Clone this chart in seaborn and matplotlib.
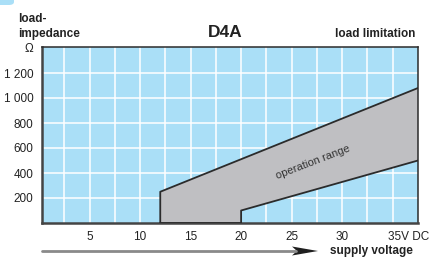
import matplotlib
matplotlib.use("Agg")
import matplotlib.pyplot as plt
import seaborn as sns
from matplotlib.lines import Line2D
from matplotlib.patches import Polygon, FancyBboxPatch
from matplotlib.transforms import ScaledTranslation

# data
volts_upper = [12, 12, 37.5]
ohm_upper = [0, 250, 1080]
volts_lower = [12, 20, 20, 37.5]
ohm_lower = [0, 0, 100, 500]

x_ticks = [5, 10, 15, 20, 25, 30, 35]
x_labels = ["5", "10", "15", "20", "25", "30", "35V DC"]
y_ticks = [200, 400, 600, 800, 1000, 1200, 1400]
y_labels = ["200", "400", "600", "800", "1 000", "1 200", "\u03a9"]

blue = "#aadff7"
grey = "#bfbfc2"
dark = "#2b2b2b"

sns.set_style("white", {"axes.facecolor": blue})
plt.rcParams["font.family"] = ["Liberation Sans", "DejaVu Sans"]

fig = plt.figure(figsize=(4.45, 2.58), dpi=100)
ax = fig.add_axes([42 / 445, 1 - 223 / 258, 376 / 445, 176 / 258])
ax.set_facecolor(blue)

# grid: vertical every 2.5 V, horizontal every 200 ohm
for v in [2.5 * i for i in range(1, 15)]:
    ax.axvline(v, color="white", lw=1.1, zorder=1)
for o in y_ticks[:-1]:
    ax.axhline(o, color="white", lw=1.1, zorder=1)

# operation range
poly_x = volts_upper + volts_lower[::-1]
poly_y = ohm_upper + ohm_lower[::-1]
ax.fill(poly_x, poly_y, color=grey, zorder=2, lw=0)
sns.lineplot(x=volts_upper, y=ohm_upper, ax=ax, color=dark, lw=1.3,
             sort=False, estimator=None, zorder=3)
sns.lineplot(x=volts_lower, y=ohm_lower, ax=ax, color=dark, lw=1.3,
             sort=False, estimator=None, zorder=3)

ax.text(27.1, 490, "operation range", rotation=21, ha="center", va="center",
        fontsize=8, color="#333333", zorder=4)

ax.set_xlim(0.3, 37.5)
ax.set_ylim(0, 1408)
ax.set_xticks(x_ticks)
ax.set_xticklabels(x_labels)
ax.set_yticks(y_ticks)
ax.set_yticklabels(y_labels)
ax.tick_params(length=0, labelsize=8.5, colors="#222222")
ax.tick_params(axis="x", pad=6)
ax.tick_params(axis="y", pad=6)
last = ax.get_xticklabels()[-1]
last.set_horizontalalignment("left")
last.set_transform(last.get_transform() + ScaledTranslation(-0.045, 0, fig.dpi_scale_trans))

for side in ["top", "right"]:
    ax.spines[side].set_color(dark)
    ax.spines[side].set_linewidth(1.1)
for side in ["left", "bottom"]:
    ax.spines[side].set_color("#444444")
    ax.spines[side].set_linewidth(1.8)
ax.set_xlabel("")
ax.set_ylabel("")

# header texts
fig.text(18 / 445, 1 - 22 / 258, "load-", fontsize=8.5, fontweight="bold", color="#222222", va="baseline")
fig.text(18 / 445, 1 - 37 / 258, "impedance", fontsize=8.5, fontweight="bold", color="#222222", va="baseline")
fig.text(225 / 445, 1 - 37 / 258, "D4A", fontsize=12.5, fontweight="bold", color="#222222",
         ha="center", va="baseline")
fig.text(415 / 445, 1 - 37 / 258, "load limitation", fontsize=8.5, fontweight="bold", color="#222222",
         ha="right", va="baseline")

# supply voltage arrow
fig.add_artist(Line2D([42 / 445, 296 / 445], [1 - 251 / 258, 1 - 251 / 258],
                      transform=fig.transFigure, color="#8a8a8a", lw=2))
head = [(292, 246.5), (318, 251), (292, 255.5), (297, 251)]
fig.add_artist(Polygon([(px / 445, 1 - py / 258) for px, py in head], closed=True,
                       transform=fig.transFigure, color="#1f1f1f", lw=0))
fig.text(330 / 445, 1 - 251 / 258, "supply voltage", fontsize=8.5, fontweight="bold",
         color="#222222", va="center")

# small blue tab in the corner
fig.add_artist(FancyBboxPatch((-10 / 445, 1 - 5 / 258), 24 / 445, 12 / 258,
                              boxstyle="round,pad=0,rounding_size=0.012",
                              transform=fig.transFigure, color=blue, lw=0))

fig.savefig("out.png", dpi=100)
